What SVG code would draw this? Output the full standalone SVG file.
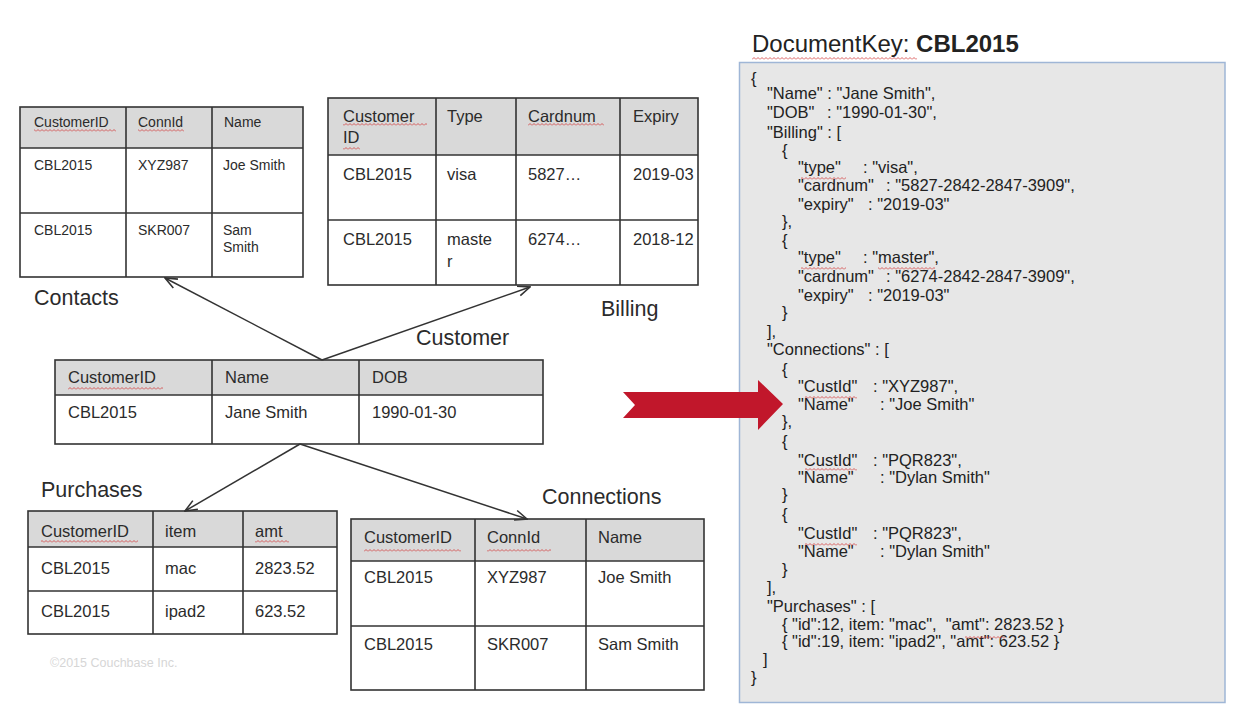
<svg xmlns="http://www.w3.org/2000/svg" width="1243" height="705" viewBox="0 0 1243 705">
<style>
text{font-family:"Liberation Sans",Arial,sans-serif;fill:#2b2b2b}
.c14{font-size:14px}
.c16{font-size:16.5px}
.lbl{font-size:21.5px}
.hdr{fill:#d9d9d9}
.out{fill:none;stroke:#333;stroke-width:1.6}
.ln{stroke:#333;stroke-width:1.6}
.con{stroke:#333;stroke-width:1.5;fill:none;marker-end:url(#open)}
.js{font-size:16.5px;fill:#222;white-space:pre}
.sq{fill:url(#wave)}
</style>
<defs>
<marker id="open" viewBox="0 0 14 12" refX="13" refY="6" markerWidth="14" markerHeight="12" markerUnits="userSpaceOnUse" orient="auto">
<path d="M1,1 L13,6 L1,11" fill="none" stroke="#333" stroke-width="1.6"/>
</marker>
<pattern id="wave" width="4" height="3" patternUnits="userSpaceOnUse">
<path d="M0,2.5 L2,0.5 L4,2.5" fill="none" stroke="#d23a3a" stroke-width="0.8"/>
</pattern>
</defs>
<rect width="1243" height="705" fill="#ffffff"/>

<g id="contacts">
<rect class="hdr" x="20" y="107" width="283" height="41"/>
<rect class="out" x="20" y="107" width="283" height="170"/>
<line class="ln" x1="20" y1="148" x2="303" y2="148"/>
<line class="ln" x1="20" y1="213" x2="303" y2="213"/>
<line class="ln" x1="126" y1="107" x2="126" y2="277"/>
<line class="ln" x1="212" y1="107" x2="212" y2="277"/>
<text class="c14" x="34" y="127">CustomerID</text>
<text class="c14" x="138" y="127">ConnId</text>
<text class="c14" x="224" y="127">Name</text>
<text class="c14" x="34" y="170">CBL2015</text>
<text class="c14" x="138" y="170">XYZ987</text>
<text class="c14" x="223" y="170">Joe Smith</text>
<text class="c14" x="34" y="235">CBL2015</text>
<text class="c14" x="138" y="235">SKR007</text>
<text class="c14" x="223" y="235">Sam</text>
<text class="c14" x="223" y="252">Smith</text>
<rect class="sq" x="34" y="129" width="82" height="3"/>
<rect class="sq" x="138" y="129" width="46" height="3"/>
<text class="lbl" x="34" y="305">Contacts</text>
</g>

<g id="billing">
<rect class="hdr" x="328" y="98" width="370" height="57"/>
<rect class="out" x="328" y="98" width="370" height="187"/>
<line class="ln" x1="328" y1="155" x2="698" y2="155"/>
<line class="ln" x1="328" y1="220" x2="698" y2="220"/>
<line class="ln" x1="436" y1="98" x2="436" y2="285"/>
<line class="ln" x1="516" y1="98" x2="516" y2="285"/>
<line class="ln" x1="620" y1="98" x2="620" y2="285"/>
<text class="c16" x="343" y="122">Customer</text>
<text class="c16" x="343" y="143">ID</text>
<text class="c16" x="447" y="122">Type</text>
<text class="c16" x="528" y="122">Cardnum</text>
<text class="c16" x="633" y="122">Expiry</text>
<text class="c16" x="343" y="180">CBL2015</text>
<text class="c16" x="447" y="180">visa</text>
<text class="c16" x="528" y="180">5827…</text>
<text class="c16" x="633" y="180">2019-03</text>
<text class="c16" x="343" y="245">CBL2015</text>
<text class="c16" x="447" y="245">maste</text>
<text class="c16" x="447" y="267">r</text>
<text class="c16" x="528" y="245">6274…</text>
<text class="c16" x="633" y="245">2018-12</text>
<rect class="sq" x="343" y="123" width="84" height="3"/>
<rect class="sq" x="343" y="147" width="17" height="3"/>
<rect class="sq" x="528" y="123" width="76" height="3"/>
<text class="lbl" x="601" y="316">Billing</text>
</g>

<g id="customer">
<rect class="hdr" x="55" y="360" width="488" height="35"/>
<rect class="out" x="55" y="360" width="488" height="84"/>
<line class="ln" x1="55" y1="395" x2="543" y2="395"/>
<line class="ln" x1="212" y1="360" x2="212" y2="444"/>
<line class="ln" x1="359" y1="360" x2="359" y2="444"/>
<text class="c16" x="68" y="383">CustomerID</text>
<text class="c16" x="225" y="383">Name</text>
<text class="c16" x="372" y="383">DOB</text>
<text class="c16" x="68" y="418">CBL2015</text>
<text class="c16" x="225" y="418">Jane Smith</text>
<text class="c16" x="372" y="418">1990-01-30</text>
<rect class="sq" x="68" y="387" width="95" height="3"/>
<text class="lbl" x="416" y="345">Customer</text>
</g>

<g id="purchases">
<rect class="hdr" x="28" y="511" width="309" height="36"/>
<rect class="out" x="28" y="511" width="309" height="123"/>
<line class="ln" x1="28" y1="547" x2="337" y2="547"/>
<line class="ln" x1="28" y1="591" x2="337" y2="591"/>
<line class="ln" x1="153" y1="511" x2="153" y2="634"/>
<line class="ln" x1="243" y1="511" x2="243" y2="634"/>
<text class="c16" x="41" y="537">CustomerID</text>
<text class="c16" x="165" y="537">item</text>
<text class="c16" x="255" y="537">amt</text>
<text class="c16" x="41" y="574">CBL2015</text>
<text class="c16" x="165" y="574">mac</text>
<text class="c16" x="255" y="574">2823.52</text>
<text class="c16" x="41" y="617">CBL2015</text>
<text class="c16" x="165" y="617">ipad2</text>
<text class="c16" x="255" y="617">623.52</text>
<rect class="sq" x="41" y="540" width="97" height="3"/>
<rect class="sq" x="255" y="540" width="34" height="3"/>
<text class="lbl" x="41" y="497">Purchases</text>
<text x="50" y="667" style="font-size:12.5px;fill:#d6d6d6">©2015 Couchbase Inc.</text>
</g>

<g id="connections">
<rect class="hdr" x="351" y="519" width="353" height="42"/>
<rect class="out" x="351" y="519" width="353" height="171"/>
<line class="ln" x1="351" y1="561" x2="704" y2="561"/>
<line class="ln" x1="351" y1="626" x2="704" y2="626"/>
<line class="ln" x1="475" y1="519" x2="475" y2="690"/>
<line class="ln" x1="586" y1="519" x2="586" y2="690"/>
<text class="c16" x="364" y="543">CustomerID</text>
<text class="c16" x="487" y="543">ConnId</text>
<text class="c16" x="598" y="543">Name</text>
<text class="c16" x="364" y="583">CBL2015</text>
<text class="c16" x="487" y="583">XYZ987</text>
<text class="c16" x="598" y="583">Joe Smith</text>
<text class="c16" x="364" y="650">CBL2015</text>
<text class="c16" x="487" y="650">SKR007</text>
<text class="c16" x="598" y="650">Sam Smith</text>
<rect class="sq" x="364" y="549" width="97" height="3"/>
<rect class="sq" x="487" y="549" width="64" height="3"/>
<text class="lbl" x="542" y="504">Connections</text>
</g>

<g id="connectors">
<line class="con" x1="322" y1="360" x2="165" y2="278"/>
<line class="con" x1="322" y1="360" x2="530" y2="287"/>
<line class="con" x1="300" y1="444" x2="185" y2="511"/>
<line class="con" x1="300" y1="444" x2="527" y2="519"/>
</g>

<g id="document">
<text x="752" y="52" style="font-size:24px;fill:#222">DocumentKey: <tspan style="font-weight:bold">CBL2015</tspan></text>
<rect class="sq" x="752" y="57" width="165" height="3"/>
<rect x="739.5" y="62.5" width="485.5" height="640" fill="#e7e7e7" stroke="#9fb6d6" stroke-width="1.5"/>
<g>
<text class="js" x="751" y="84">{</text>
<text class="js" x="767" y="99">"Name" : "Jane Smith",</text>
<text class="js" x="767" y="118">"DOB"</text><text class="js" x="827" y="118">: "1990-01-30",</text>
<text class="js" x="767" y="138">"Billing" : [</text>
<text class="js" x="782" y="156">{</text>
<text class="js" x="798" y="173">"type"</text><text class="js" x="863" y="173">: "visa",</text>
<text class="js" x="798" y="191">"cardnum"</text><text class="js" x="886" y="191">: "5827-2842-2847-3909",</text>
<text class="js" x="798" y="210">"expiry"</text><text class="js" x="868" y="210">: "2019-03"</text>
<text class="js" x="782" y="227">},</text>
<text class="js" x="782" y="246">{</text>
<text class="js" x="798" y="263">"type"</text><text class="js" x="863" y="263">: "master",</text>
<text class="js" x="798" y="282">"cardnum"</text><text class="js" x="886" y="282">: "6274-2842-2847-3909",</text>
<text class="js" x="798" y="301">"expiry"</text><text class="js" x="868" y="301">: "2019-03"</text>
<text class="js" x="782" y="318">}</text>
<text class="js" x="767" y="337">],</text>
<text class="js" x="767" y="355">"Connections" : [</text>
<text class="js" x="782" y="375">{</text>
<text class="js" x="798" y="392">"CustId"</text><text class="js" x="873" y="392">: "XYZ987",</text>
<text class="js" x="798" y="410">"Name"</text><text class="js" x="880" y="410">: "Joe Smith"</text>
<text class="js" x="782" y="427">},</text>
<text class="js" x="782" y="447">{</text>
<text class="js" x="798" y="466">"CustId"</text><text class="js" x="873" y="466">: "PQR823",</text>
<text class="js" x="798" y="483">"Name"</text><text class="js" x="880" y="483">: "Dylan Smith"</text>
<text class="js" x="782" y="500">}</text>
<text class="js" x="782" y="520">{</text>
<text class="js" x="798" y="539">"CustId"</text><text class="js" x="873" y="539">: "PQR823",</text>
<text class="js" x="798" y="557">"Name"</text><text class="js" x="880" y="557">: "Dylan Smith"</text>
<text class="js" x="782" y="575">}</text>
<text class="js" x="767" y="593">],</text>
<text class="js" x="767" y="612">"Purchases" : [</text>
<text class="js" x="782" y="630">{ "id":12, item: "mac",  "amt": 2823.52 }</text>
<text class="js" x="782" y="647">{ "id":19, item: "ipad2", "amt": 623.52 }</text>
<text class="js" x="763" y="665">]</text>
<text class="js" x="751" y="683">}</text>
</g>
<rect class="sq" x="801" y="177" width="45" height="3"/>
<rect class="sq" x="801" y="267" width="45" height="3"/>
<rect class="sq" x="878" y="267" width="57" height="3"/>
<rect class="sq" x="805" y="396" width="52" height="3"/>
<rect class="sq" x="805" y="468" width="52" height="3"/>
<rect class="sq" x="805" y="543" width="52" height="3"/>
<rect class="sq" x="965" y="636" width="40" height="3"/>
</g>

<g id="transform-arrow">
<polygon points="623,392 758,392 758,380 783,404 758,430 758,418 623,418 635,405" fill="#c1172b"/>
</g>
</svg>
